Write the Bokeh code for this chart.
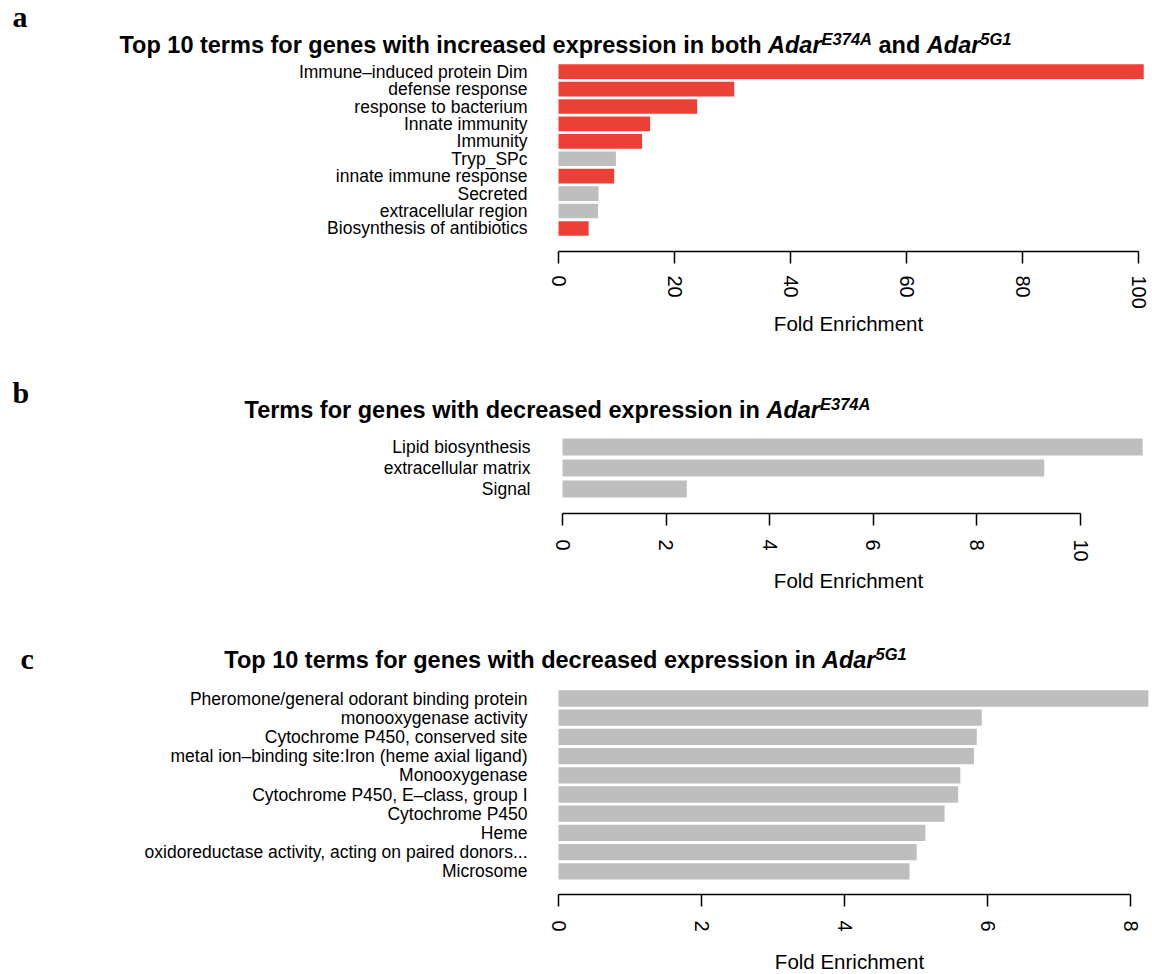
import glob
from bokeh.plotting import figure
from bokeh.layouts import column
from bokeh.models import Range1d, FixedTicker, ColumnDataSource
from bokeh.core.properties import value
from bokeh.embed import file_html
from bokeh.resources import INLINE

RED = "#EC4036"
GRAY = "#BEBEBE"

# ---- panel a: genes up in both mutants ----
terms_a = [
    "Immune\u2013induced protein Dim",
    "defense response",
    "response to bacterium",
    "Innate immunity",
    "Immunity",
    "Tryp_SPc",
    "innate immune response",
    "Secreted",
    "extracellular region",
    "Biosynthesis of antibiotics",
]
fold_a = [100.9, 30.3, 23.9, 15.8, 14.4, 9.9, 9.6, 6.9, 6.8, 5.2]
immune_a = [True, True, True, True, True, False, True, False, False, True]
ticks_a = [0, 20, 40, 60, 80, 100]

# ---- panel b: genes down in AdarE374A ----
terms_b = ["Lipid biosynthesis", "extracellular matrix", "Signal"]
fold_b = [11.2, 9.3, 2.4]
ticks_b = [0, 2, 4, 6, 8, 10]

# ---- panel c: genes down in Adar5G1 ----
terms_c = [
    "Pheromone/general odorant binding protein",
    "monooxygenase activity",
    "Cytochrome P450, conserved site",
    "metal ion\u2013binding site:Iron (heme axial ligand)",
    "Monooxygenase",
    "Cytochrome P450, E\u2013class, group I",
    "Cytochrome P450",
    "Heme",
    "oxidoreductase activity, acting on paired donors...",
    "Microsome",
]
fold_c = [8.25, 5.92, 5.85, 5.81, 5.62, 5.59, 5.40, 5.13, 5.01, 4.91]
ticks_c = [0, 2, 4, 6, 8]

AXIS_TITLE = "Fold Enrichment"

PAGE_W = 1152
SANS = "Liberation Sans"
SERIF = "Liberation Serif"
# distance (in em) from the baseline up to the middle of the ascent/descent box
MID_OFFSET = {SANS: 0.3465, SERIF: 0.3375}


def _font_path(fname):
    for root in ("/usr/share/fonts", "/usr/local/share/fonts"):
        hits = glob.glob(f"{root}/**/{fname}", recursive=True)
        if hits:
            return hits[0]
    return None


_FONT_FILES = {
    "bold": "LiberationSans-Bold.ttf",
    "bold italic": "LiberationSans-BoldItalic.ttf",
}
_font_cache = {}


def text_width(text, style, size):
    """Advance width in px, measured at 100px and scaled."""
    if style not in _font_cache:
        font = None
        try:
            from PIL import ImageFont
            path = _font_path(_FONT_FILES[style])
            if path:
                font = ImageFont.truetype(path, 100)
        except Exception:
            font = None
        _font_cache[style] = font
    font = _font_cache[style]
    if font is not None:
        return font.getlength(text) * size / 100.0
    return 0.57 * size * len(text)


def strip(height, top_page):
    """Full-width text band; coordinates are page pixels (y grows downward)."""
    s = figure(
        width=PAGE_W, height=height,
        x_range=Range1d(0, PAGE_W), y_range=Range1d(top_page + height, top_page),
        x_axis_type=None, y_axis_type=None,
        output_backend="svg", toolbar_location=None, min_border=0,
    )
    s.outline_line_color = None
    s.xgrid.visible = False
    s.ygrid.visible = False
    s.background_fill_color = "white"
    s.border_fill_color = "white"
    return s


def put_text(s, x, baseline, text, *, font=SANS, style="normal", size=20.5, align="left"):
    """Draw a text whose baseline sits at the given page y."""
    y_mid = baseline - MID_OFFSET[font] * size
    s.text(x=[x], y=[y_mid], text=[text], text_font=value(font),
           text_font_style=style, text_font_size=f"{size}px",
           text_color="black", text_align=align, text_baseline="middle")


def put_title(s, pieces, center, baseline):
    widths = [text_width(t, st, sz) for t, st, sz, _ in pieces]
    x0 = center - sum(widths) / 2
    for (t, st, sz, rise), w in zip(pieces, widths):
        lead = len(t) - len(t.lstrip(" "))
        shift = text_width(" " * lead, st, sz) if lead else 0
        put_text(s, x0 + shift, baseline - rise, t.strip(" "), style=st, size=sz)
        x0 += w


def bar_panel(terms, fold, colors, ticks, *, height, zero_x, axis_y,
              first_center, pitch, bar_frac, px_per_unit, label_standoff,
              tick_label_standoff=14):
    """Bars with a real bottom axis; frame spans the full width, term names as text."""
    n = len(terms)
    ys = [n - 1 - i for i in range(n)]
    last_center = first_center + (n - 1) * pitch
    y_start = -(axis_y - last_center) / pitch
    y_end = (n - 1) + first_center / pitch

    p = figure(
        width=PAGE_W, height=height,
        x_range=Range1d(-zero_x / px_per_unit, (PAGE_W - zero_x) / px_per_unit),
        y_range=Range1d(y_start, y_end),
        y_axis_type=None,
        output_backend="svg", toolbar_location=None,
        min_border_left=0, min_border_right=0,
        min_border_top=0, min_border_bottom=height - axis_y,
    )
    p.outline_line_color = None
    p.xgrid.visible = False
    p.ygrid.visible = False
    p.background_fill_color = "white"
    p.border_fill_color = "white"

    src = ColumnDataSource(dict(y=ys, fold=fold, color=colors, term=terms,
                                zero=[0] * n))
    p.hbar(y="y", left=0, right="fold", height=bar_frac, source=src,
           fill_color="color", line_color=None)
    p.text(x="zero", y="y", text="term", source=src, x_offset=-label_standoff,
           text_align="right", text_baseline="middle",
           text_font=value(SANS), text_font_size="17.5px", text_color="black")

    xa = p.xaxis[0]
    xa.ticker = FixedTicker(ticks=ticks)
    xa.bounds = (ticks[0], ticks[-1])
    xa.major_label_orientation = "vertical"
    xa.major_tick_out = 12
    xa.major_tick_in = 0
    xa.minor_tick_line_color = None
    xa.axis_line_width = 1.5
    xa.major_tick_line_width = 1.5
    xa.axis_line_color = "black"
    xa.major_tick_line_color = "black"
    xa.major_label_standoff = tick_label_standoff
    xa.major_label_text_font = SANS
    xa.major_label_text_font_size = "20px"
    xa.major_label_text_color = "black"
    return p


TITLE = 23.5
SUP = 16.5
RISE = 9

# band: letter and title of a (page 0-60)
s1 = strip(60, 0)
put_text(s1, 12, 26, "a", font=SERIF, style="bold", size=30)
put_title(s1, [
    ("Top 10 terms for genes with increased expression in both ", "bold", TITLE, 0),
    ("Adar", "bold italic", TITLE, 0),
    ("E374A", "bold italic", SUP, RISE),
    (" and ", "bold", TITLE, 0),
    ("Adar", "bold italic", TITLE, 0),
    ("5G1", "bold italic", SUP, RISE),
], center=565, baseline=53)

# panel a bars (page 60-311)
pa = bar_panel(
    terms_a, fold_a, [RED if f else GRAY for f in immune_a], ticks_a,
    height=251, zero_x=558, axis_y=193,
    first_center=11.3, pitch=17.6, bar_frac=0.84, px_per_unit=5.8,
    label_standoff=31, tick_label_standoff=12,
)

# band: axis title of a, letter and title of b (page 311-430)
s2 = strip(119, 311)
put_text(s2, 848, 330, AXIS_TITLE, align="center")
put_text(s2, 12, 402, "b", font=SERIF, style="bold", size=30)
put_title(s2, [
    ("Terms for genes with decreased expression in ", "bold", TITLE, 0),
    ("Adar", "bold italic", TITLE, 0),
    ("E374A", "bold italic", SUP, RISE),
], center=557, baseline=418)

# panel b bars (page 430-566)
pb = bar_panel(
    terms_b, fold_b, [GRAY] * len(terms_b), ticks_b,
    height=136, zero_x=562, axis_y=83,
    first_center=16.5, pitch=21.0, bar_frac=0.81, px_per_unit=51.8,
    label_standoff=32,
)

# band: axis title of b, letter and title of c (page 566-680)
s3 = strip(114, 566)
put_text(s3, 848, 587.5, AXIS_TITLE, align="center")
put_text(s3, 20, 668, "c", font=SERIF, style="bold", size=30)
put_title(s3, [
    ("Top 10 terms for genes with decreased expression in ", "bold", TITLE, 0),
    ("Adar", "bold italic", TITLE, 0),
    ("5G1", "bold italic", SUP, RISE),
], center=565, baseline=668)

# panel c bars (page 680-934)
pc = bar_panel(
    terms_c, fold_c, [GRAY] * len(terms_c), ticks_c,
    height=254, zero_x=558, axis_y=214,
    first_center=18.0, pitch=19.2, bar_frac=0.85, px_per_unit=71.5,
    label_standoff=31,
)

# band: axis title of c (page 934-974)
s4 = strip(40, 934)
put_text(s4, 849, 967.7, AXIS_TITLE, align="center")

layout = column(s1, pa, s2, pb, s3, pc, s4, spacing=0)
open("out.html", "w").write(file_html(layout, INLINE))
